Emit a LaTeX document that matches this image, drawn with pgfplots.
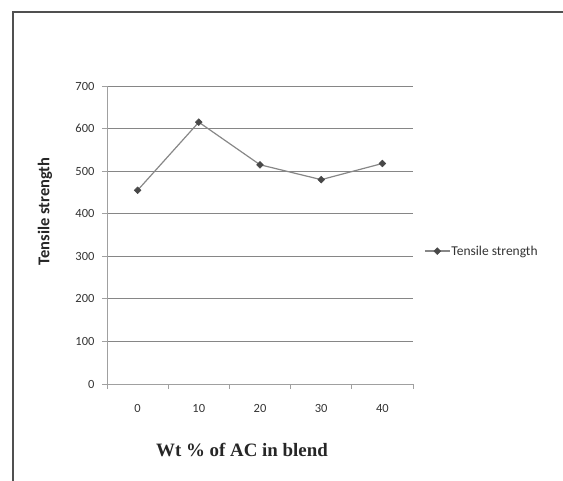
\documentclass[border=0pt]{standalone}
\usepackage{fontspec}
\setmainfont{Carlito}
\newfontfamily\timesfont{Liberation Serif}
\usepackage{pgfplots}
\pgfplotsset{compat=1.18}
\definecolor{gridc}{RGB}{134,134,134}
\definecolor{axisc}{RGB}{160,160,160}
\definecolor{linec}{RGB}{135,135,135}
\definecolor{markc}{RGB}{72,72,72}
\definecolor{framec}{RGB}{80,80,80}
\begin{document}
\begin{tikzpicture}
\useasboundingbox (0,0) rectangle (563pt,481pt);
\draw[framec, line width=2pt] (12.5pt,0pt) -- (12.5pt,468.5pt) -- (563pt,468.5pt);
\begin{axis}[
  at={(107pt,97pt)}, anchor=south west,
  scale only axis, width=306pt, height=298pt,
  xmin=-0.5, xmax=4.5, ymin=0, ymax=700,
  axis lines*=left,
  axis line style={axisc, line width=0.9pt},
  ytick={0,100,...,700},
  ymajorgrids, grid style={gridc, line width=0.9pt},
  tick align=outside, major tick length=5pt,
  tick style={axisc, line width=0.9pt},
  xtick={-0.5,0.5,1.5,2.5,3.5,4.5},
  xticklabels={,,,,,},
  extra x ticks={0,1,2,3,4},
  extra x tick labels={0,10,20,30,40},
  extra x tick style={major tick length=0pt, grid=none,
     xticklabel style={yshift=-17pt}},
  /pgf/number format/assume math mode=true,
  ticklabel style={font=\fontsize{12.5}{14}\selectfont, text=black!80},
  yticklabel style={xshift=-4pt},
  legend style={draw=none, fill=none, at={(axis description cs:1.036,0.446)},
    anchor=west, inner sep=0pt, nodes={inner sep=1pt},
    font=\fontsize{13.5}{15}\selectfont, text=black!80},
  legend cell align=left,
  legend image code/.code={\draw[mark repeat=2,mark phase=2] plot coordinates {(0pt,0pt)(12.5pt,0pt)(25pt,0pt)};},
  clip=false,
]
\addplot[linec, line width=1.2pt, mark=square*, mark size=2.4pt,
  mark options={rotate=45, fill=markc, draw=markc, line width=0.5pt}]
  coordinates {(0,455) (1,615) (2,515) (3,480) (4,518)};
\addlegendentry{Tensile strength}
\end{axis}
\node[rotate=90, font=\fontsize{16.5}{18}\selectfont\bfseries, text=black!85] at (45pt,269.5pt) {Tensile strength};
\node[font=\fontsize{18.9}{21}\selectfont\timesfont\bfseries, text=black!85] at (242pt,31pt) {Wt \% of AC in blend};
\end{tikzpicture}
\end{document}
